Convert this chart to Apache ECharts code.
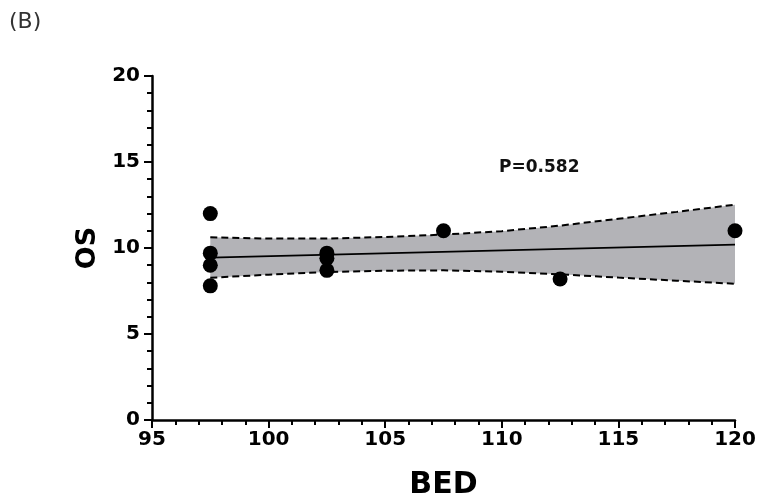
<!DOCTYPE html>
<html>
<head>
<meta charset="utf-8">
<script src="https://cdn.jsdelivr.net/npm/echarts@6/dist/echarts.min.js"></script>
<style>html,body{margin:0;padding:0;background:#fff;}#c{width:760px;height:499px;}</style>
</head>
<body>
<div id="c"></div>
<script>
// Observed points
var bedValues = [97.5, 97.5, 97.5, 97.5, 102.5, 102.5, 102.5, 107.5, 112.5, 120];
var osValues  = [12.0, 9.7, 9.0, 7.8, 9.7, 9.4, 8.7, 11.0, 8.2, 11.0];
// Regression line endpoints
var fitX = [97.5, 120];
var fitY = [9.44, 10.2];
// Confidence band
var bandX     = [97.5, 100, 102.5, 105, 107.5, 110, 112.5, 115, 117.5, 120];
var bandUpper = [10.62, 10.55, 10.55, 10.64, 10.78, 10.98, 11.3, 11.7, 12.1, 12.52];
var bandLower = [8.27, 8.45, 8.6, 8.68, 8.7, 8.62, 8.47, 8.28, 8.1, 7.92];
var xTicks = [95, 100, 105, 110, 115, 120];
var yTicks = [0, 5, 10, 15, 20];

function zip(a, b) { return a.map(function (v, i) { return [v, b[i]]; }); }

var FONT = 'DejaVu Sans';
var chart = echarts.init(document.getElementById('c'), null, {renderer: 'canvas'});
var axisCommon = {
  axisLine: {show: true, onZero: false, lineStyle: {color: '#000', width: 2.5}},
  axisTick: {show: true, inside: false, length: 8, lineStyle: {color: '#000', width: 2}},
  minorTick: {show: true, splitNumber: 5, length: 5, lineStyle: {color: '#000', width: 2}},
  splitLine: {show: false},
  axisLabel: {color: '#000', fontFamily: FONT, fontWeight: 'bold', fontSize: 20},
  nameTextStyle: {color: '#000', fontFamily: FONT, fontWeight: 'bold', fontSize: 30}
};
chart.setOption({
  animation: false,
  backgroundColor: '#fff',
  grid: {left: 152, right: 25, top: 76, bottom: 79, containLabel: false, outerBoundsMode: 'none'},
  xAxis: Object.assign({}, axisCommon, {
    type: 'value', min: xTicks[0], max: xTicks[xTicks.length - 1], interval: 5,
    name: 'BED', nameLocation: 'middle', nameGap: 50,
    axisLabel: Object.assign({}, axisCommon.axisLabel, {margin: 10})
  }),
  yAxis: Object.assign({}, axisCommon, {
    type: 'value', min: yTicks[0], max: yTicks[yTicks.length - 1], interval: 5,
    name: 'OS', nameLocation: 'middle', nameGap: 51,
    nameTextStyle: Object.assign({}, axisCommon.nameTextStyle, {fontSize: 27}),
    axisLabel: Object.assign({}, axisCommon.axisLabel, {margin: 12})
  }),
  graphic: [
    {type: 'text', left: 9, top: 11, style: {text: '(B)', fontFamily: FONT, fontSize: 22, fill: '#333'}},
    {type: 'text', left: 499, top: 159, style: {text: 'P=0.582', fontFamily: FONT, fontWeight: 'bold', fontSize: 17, fill: '#111'}}
  ],
  series: [
    {type: 'custom', data: zip(bandX, bandUpper), z: 1, silent: true,
     renderItem: function (params, api) {
       if (params.dataIndex !== 0) return null;
       var pts = [];
       for (var i = 0; i < bandX.length; i++) pts.push(api.coord([bandX[i], bandUpper[i]]));
       for (var j = bandX.length - 1; j >= 0; j--) pts.push(api.coord([bandX[j], bandLower[j]]));
       return {type: 'polygon', shape: {points: pts}, style: {fill: '#b3b3b7', stroke: null}};
     }},
    {type: 'line', data: zip(bandX, bandUpper), symbol: 'none',
     lineStyle: {color: '#000', width: 2, type: [7, 4]}, z: 2},
    {type: 'line', data: zip(bandX, bandLower), symbol: 'none',
     lineStyle: {color: '#000', width: 2, type: [7, 4]}, z: 2},
    {type: 'line', data: zip(fitX, fitY), symbol: 'none',
     lineStyle: {color: '#000', width: 1.8}, z: 3},
    {type: 'scatter', data: zip(bedValues, osValues), symbol: 'circle', symbolSize: 15,
     itemStyle: {color: '#000', opacity: 1}, z: 4}
  ]
});
</script>
</body>
</html>
